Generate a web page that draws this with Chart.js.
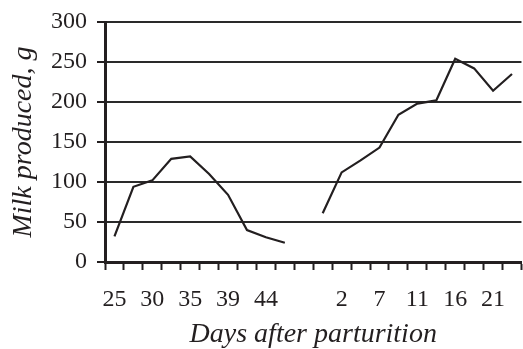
<!DOCTYPE html>
<html>
<head>
<meta charset="utf-8">
<script src="https://cdn.jsdelivr.net/npm/chart.js@4/dist/chart.umd.min.js"></script>
<style>
  html, body { margin: 0; padding: 0; background: #fff; overflow: hidden; }
  #wrap { width: 530px; height: 349px; }
</style>
</head>
<body>
<div id="wrap"><canvas id="milkChart" width="530" height="349"></canvas></div>
<script>
/* ====== DATA ====== */
// one category per measurement, only every other one is labelled
const categories = ["25","","30","","35","","39","","44","","","","2","","7","","11","","16","","21",""];
const beforeParturition = [32, 94, 102, 129, 132, 110, 84, 40, 31, 24, null, null, null, null, null, null, null, null, null, null, null, null];
const afterParturition  = [null, null, null, null, null, null, null, null, null, null, null, 61, 112, 127, 143, 184, 198, 202, 254, 242, 214, 235];
const yTicks = [0, 50, 100, 150, 200, 250, 300];

const INK = "#231f20";
const serif = (size, style) => ({ family: "'Liberation Serif', 'Times New Roman', serif", size, style: style || "normal", lineHeight: 1 });

/* ====== CHART ====== */
new Chart(document.getElementById("milkChart"), {
  type: "line",
  data: {
    labels: categories,
    datasets: [
      { data: beforeParturition, borderColor: INK, borderWidth: 2.2, pointRadius: 0, tension: 0, spanGaps: false },
      { data: afterParturition,  borderColor: INK, borderWidth: 2.2, pointRadius: 0, tension: 0, spanGaps: false }
    ]
  },
  options: {
    responsive: false,
    animation: false,
    layout: { padding: { top: 22, right: 0, left: 0, bottom: 0 } },
    plugins: { legend: { display: false }, tooltip: { enabled: false } },
    scales: {
      x: {
        type: "category",
        offset: true,
        grid: { offset: true, drawOnChartArea: false, drawTicks: true, tickLength: 8, tickWidth: 2, tickColor: INK },
        border: { display: true, color: INK, width: 3 },
        ticks: { autoSkip: false, maxRotation: 0, color: INK, font: serif(24), padding: 18 },
        title: { display: true, text: "Days after parturition", color: INK, font: serif(28, "italic"), padding: { top: 0, bottom: 0 } },
        afterFit: s => { s.height = 87; }
      },
      y: {
        min: 0, max: 300,
        afterBuildTicks: s => { s.ticks = yTicks.map(v => ({ value: v })); },
        grid: { color: "#2a2a2a", lineWidth: 2, tickLength: 8, tickColor: INK, tickWidth: 2 },
        border: { display: true, color: INK, width: 3 },
        ticks: { color: INK, font: serif(24), padding: 10 },
        title: { display: true, text: "Milk produced, g", color: INK, font: serif(28, "italic"), padding: { top: 10, bottom: 0 } },
        afterFit: s => { s.width = 105; }
      }
    }
  }
});
</script>
</body>
</html>
